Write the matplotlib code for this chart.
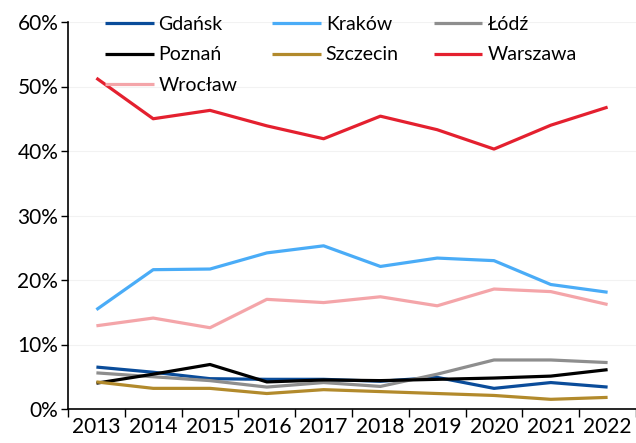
import numpy as np
import matplotlib.pyplot as plt
from matplotlib.ticker import FixedLocator, PercentFormatter

plt.rcParams['font.family'] = ['Lato', 'DejaVu Sans']

years = ['2013', '2014', '2015', '2016', '2017', '2018', '2019', '2020', '2021', '2022']
gdansk = [6.5, 5.7, 4.7, 4.6, 4.6, 4.3, 4.9, 3.2, 4.1, 3.4]
krakow = [15.4, 21.6, 21.7, 24.2, 25.3, 22.1, 23.4, 23.0, 19.3, 18.1]
lodz = [5.6, 5.0, 4.4, 3.4, 4.1, 3.5, 5.4, 7.6, 7.6, 7.2]
poznan = [4.0, 5.4, 6.9, 4.2, 4.5, 4.4, 4.6, 4.8, 5.1, 6.1]
szczecin = [4.2, 3.2, 3.2, 2.4, 3.0, 2.7, 2.4, 2.1, 1.5, 1.8]
warszawa = [51.3, 45.0, 46.3, 43.9, 41.9, 45.4, 43.3, 40.3, 44.0, 46.8]
wroclaw = [12.9, 14.1, 12.6, 17.0, 16.5, 17.4, 16.0, 18.6, 18.2, 16.2]

series = [
    ('Gdańsk', gdansk, '#0a4c9a'),
    ('Kraków', krakow, '#4aacf7'),
    ('Łódź', lodz, '#8e8e8e'),
    ('Poznań', poznan, '#000000'),
    ('Szczecin', szczecin, '#b28a2c'),
    ('Warszawa', warszawa, '#e4202f'),
    ('Wrocław', wroclaw, '#f4a5a9'),
]

fig = plt.figure(figsize=(6.36, 4.43), dpi=100)
ax = fig.add_axes([68/636, 1-409/443, 1-68/636, (409-22)/443])

x = np.arange(len(years))
lines = {}
for name, vals, col in series:
    lines[name], = ax.plot(x, vals, color=col, lw=2.3, label=name, solid_capstyle='butt')

ax.set_ylim(0, 60)
ax.set_xlim(-0.5, -0.5 + 568/57.1)
ax.yaxis.set_major_locator(FixedLocator([0, 10, 20, 30, 40, 50, 60]))
ax.yaxis.set_major_formatter(PercentFormatter(decimals=0))
ax.grid(axis='y', color='#f2f2f2', lw=0.8)
ax.set_axisbelow(True)

ax.set_xticks(np.arange(-0.5, len(years), 1.0))
ax.set_xticklabels([])
ax.set_xticks(x, minor=True)
ax.set_xticklabels(years, minor=True)
ax.tick_params(axis='x', which='major', length=6, width=1, direction='out')
ax.tick_params(axis='x', which='minor', length=0, labelsize=15, pad=6)
ax.tick_params(axis='y', length=5, width=1, labelsize=15, pad=2)

for s in ['top', 'right']:
    ax.spines[s].set_visible(False)
for s in ['left', 'bottom']:
    ax.spines[s].set_linewidth(1.2)

# column-first order so rows read Gdańsk, Kraków, Łódź / Poznań, ...
order = ['Gdańsk', 'Poznań', 'Wrocław', 'Kraków', 'Szczecin', 'Łódź', 'Warszawa']
ax.legend([lines[n] for n in order], order, loc='upper left',
          bbox_to_anchor=(0.041, 1.05), ncol=3, frameon=False,
          fontsize=14, handlelength=2.5, handletextpad=0.25, columnspacing=1.8,
          labelspacing=0.68, borderpad=0.2)

fig.savefig('out.png', dpi=100)
